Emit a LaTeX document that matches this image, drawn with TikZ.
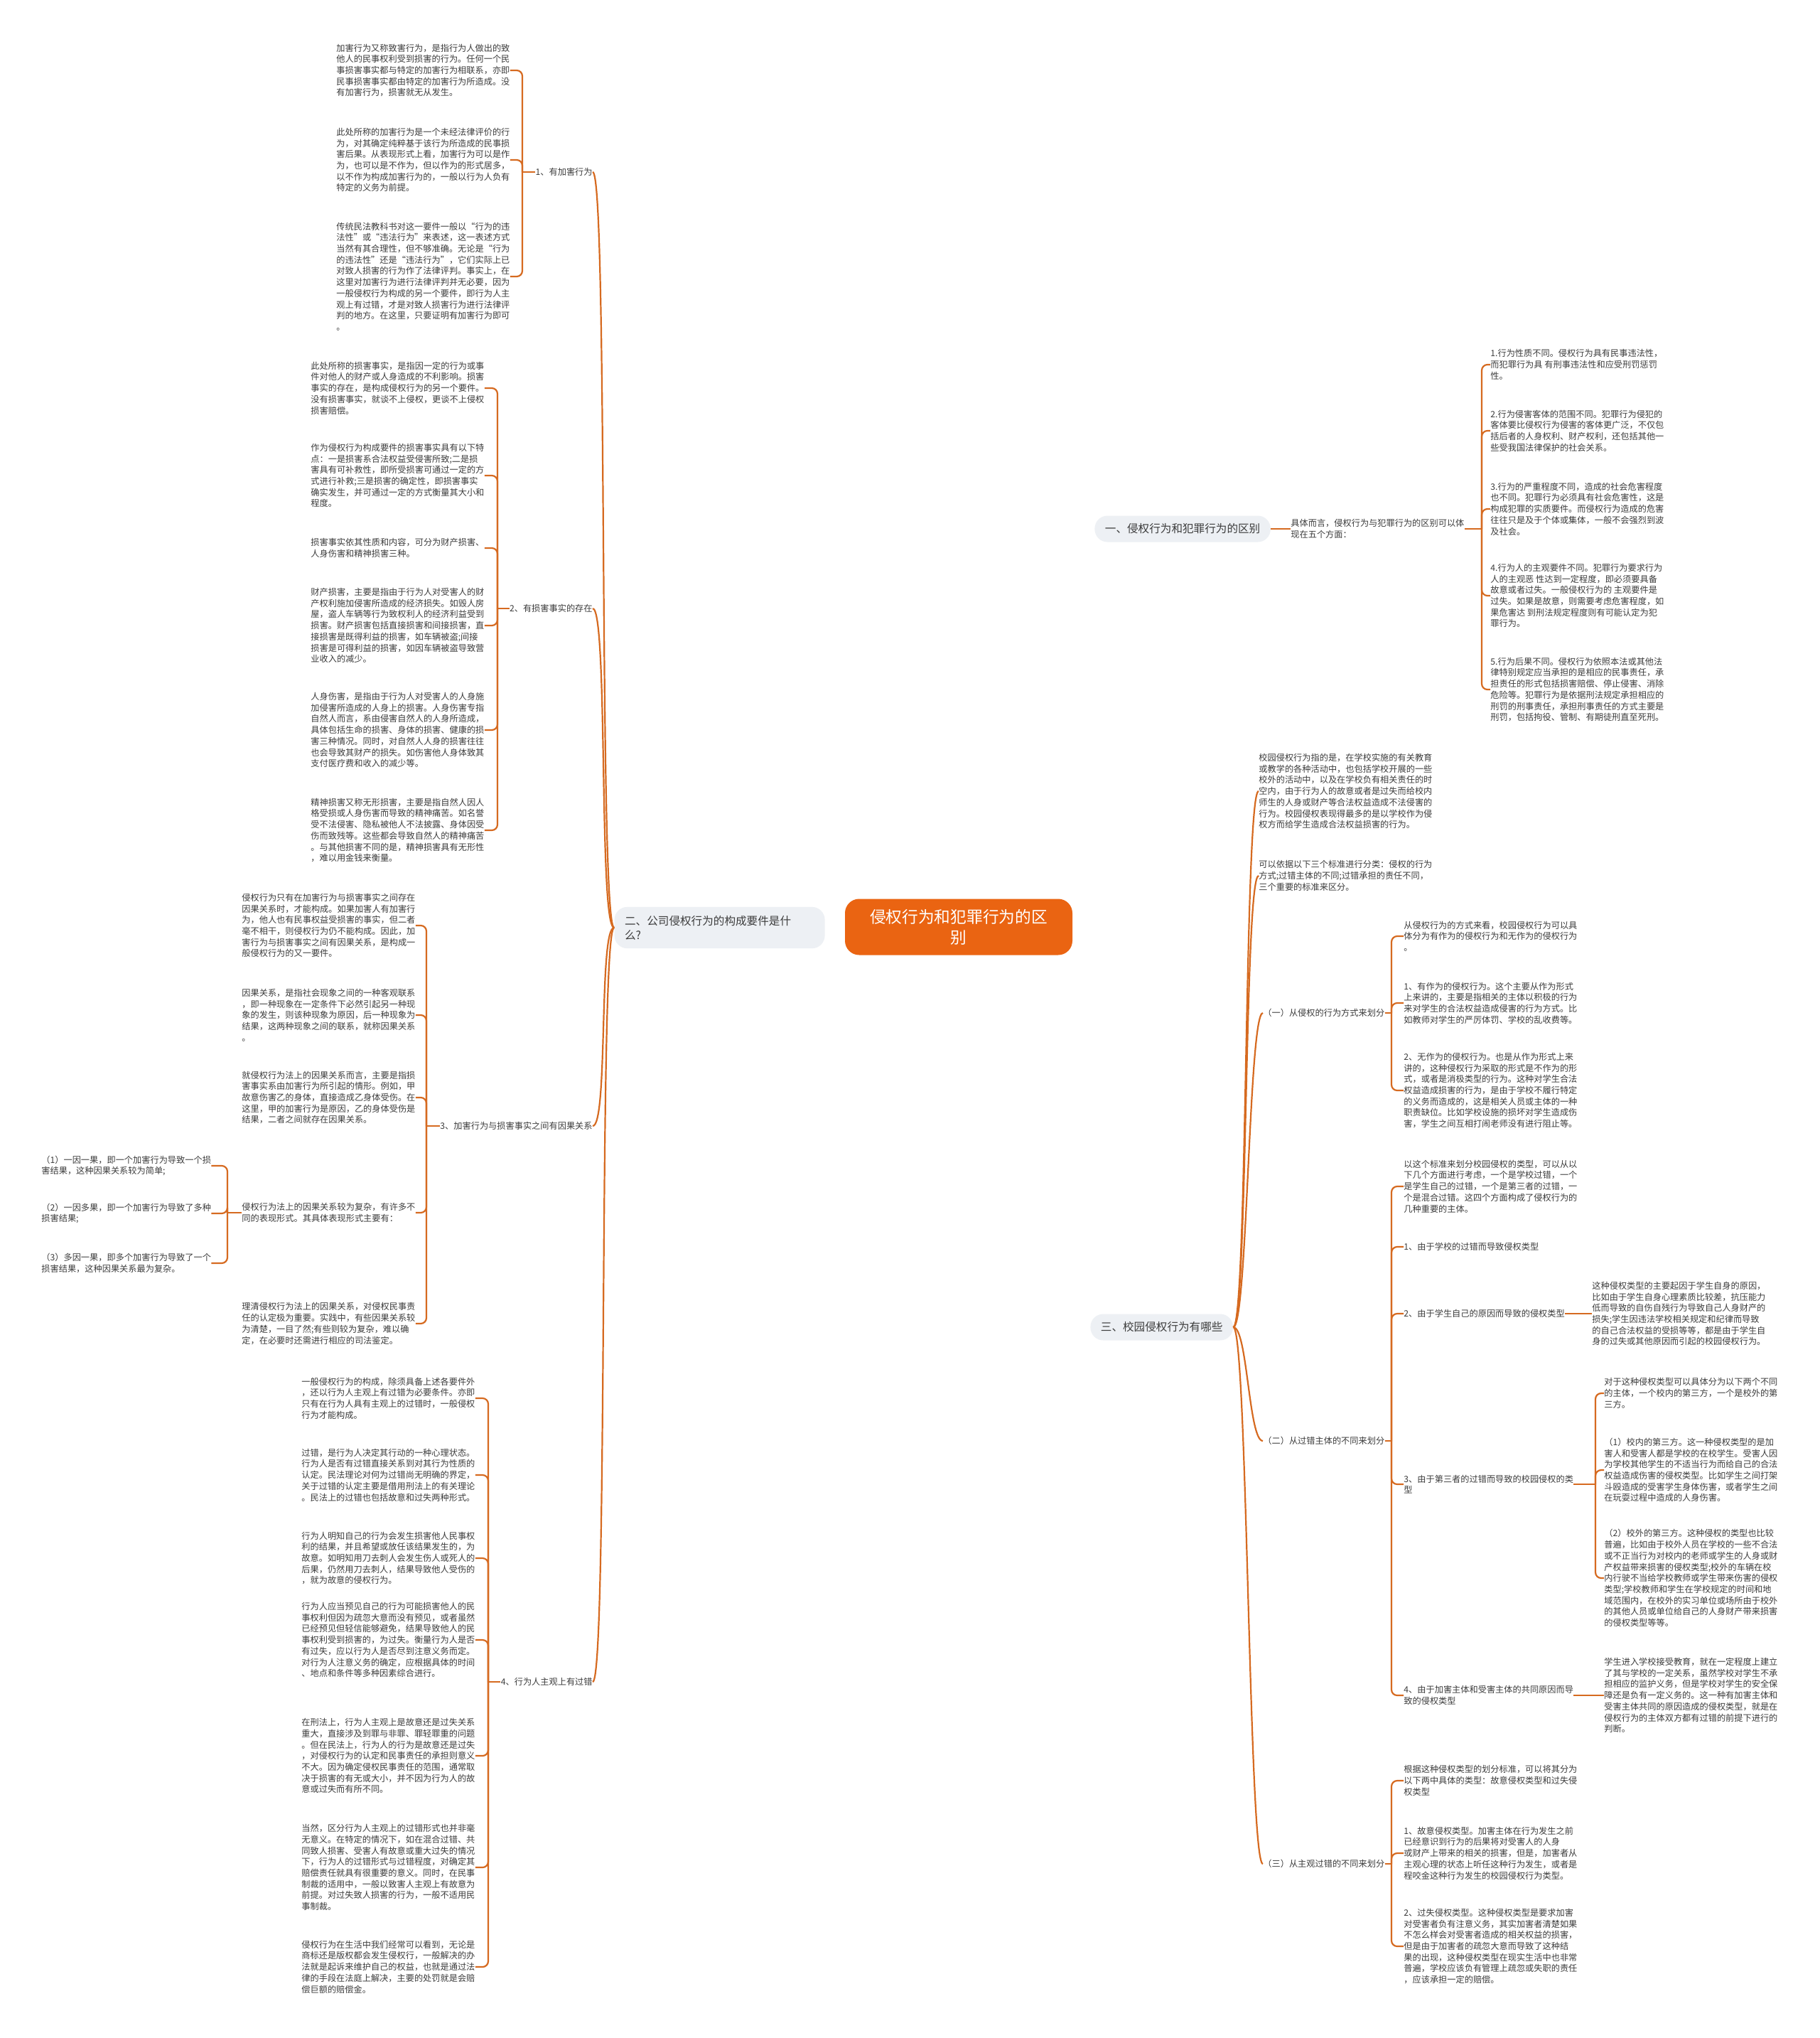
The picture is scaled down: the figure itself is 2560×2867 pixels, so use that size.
\documentclass[tikz,border=0pt]{standalone}
\usepackage{fontspec}
\setmainfont{Noto Sans CJK SC}
\usetikzlibrary{backgrounds}

\definecolor{linkc}{RGB}{214,106,32}
\definecolor{rootc}{RGB}{234,100,18}
\definecolor{topicc}{RGB}{237,240,244}
\definecolor{txtc}{RGB}{60,60,60}
\newcommand{\leaffont}{\fontsize{6.1pt}{7.85pt}\selectfont}

\begin{document}
\begin{tikzpicture}[x=0.5pt,y=-0.5pt,
  link/.style={draw=linkc,line width=1.1pt},
  hook/.style={link,rounded corners=4pt},
  leaf/.style={inner sep=0pt,align=left,text=txtc,font=\leaffont},
  topic/.style={fill=topicc,rounded corners=9pt,inner xsep=7.25pt,inner ysep=0pt,minimum height=18.5pt,text=txtc,font=\fontsize{7.8pt}{10pt}\selectfont},
  root/.style={fill=rootc,text=white,rounded corners=10pt,align=center,minimum width=160pt,minimum height=39.5pt,font=\fontsize{11.35pt}{14.5pt}\selectfont}]

\fill[white] (0,0) rectangle (2560,2867);
\useasboundingbox (0,0) rectangle (2560,2867);

% centre and main topics
\node[root] (root) at (1349,1304) {侵权行为和犯罪行为的区\\别};
\node[topic,anchor=west] (b1) at (1540,744) {一、侵权行为和犯罪行为的区别};
\node[topic,anchor=east,align=left,text width=133.5pt,inner ysep=6pt] (b2) at (1161,1305) {二、公司侵权行为的构成要件是什\\么?};
\node[topic,anchor=west] (b3) at (1534,1867) {三、校园侵权行为有哪些};

% left: labels
\node[leaf,anchor=east] (l1) at (834,242) {1、有加害行为};
\node[leaf,anchor=east] (l2) at (834,856) {2、有损害事实的存在};
\node[leaf,anchor=east] (l3) at (834,1584) {3、加害行为与损害事实之间有因果关系};
\node[leaf,anchor=east] (l4) at (834,2366) {4、行为人主观上有过错};

% 1
\node[leaf,anchor=west] (a1) at (473,99) {加害行为又称致害行为，是指行为人做出的致\\他人的民事权利受到损害的行为。任何一个民\\事损害事实都与特定的加害行为相联系，亦即\\民事损害事实都由特定的加害行为所造成。没\\有加害行为，损害就无从发生。};
\node[leaf,anchor=west] (a2) at (473,225) {此处所称的加害行为是一个未经法律评价的行\\为，对其确定纯粹基于该行为所造成的民事损\\害后果。从表现形式上看，加害行为可以是作\\为，也可以是不作为，但以作为的形式居多，\\以不作为构成加害行为的，一般以行为人负有\\特定的义务为前提。};
\node[leaf,anchor=west] (a3) at (473,389) {传统民法教科书对这一要件一般以“行为的违\\法性”或“违法行为”来表述，这一表述方式\\当然有其合理性，但不够准确。无论是“行为\\的违法性”还是“违法行为”，它们实际上已\\对致人损害的行为作了法律评判。事实上，在\\这里对加害行为进行法律评判并无必要，因为\\一般侵权行为构成的另一个要件，即行为人主\\观上有过错，才是对致人损害行为进行法律评\\判的地方。在这里，只要证明有加害行为即可\\。};

% 2
\node[leaf,anchor=west] (d1) at (437,546) {此处所称的损害事实，是指因一定的行为或事\\件对他人的财产或人身造成的不利影响。损害\\事实的存在，是构成侵权行为的另一个要件。\\没有损害事实，就谈不上侵权，更谈不上侵权\\损害赔偿。};
\node[leaf,anchor=west] (d2) at (437,669) {作为侵权行为构成要件的损害事实具有以下特\\点：一是损害系合法权益受侵害所致;二是损\\害具有可补救性，即所受损害可通过一定的方\\式进行补救;三是损害的确定性，即损害事实\\确实发生，并可通过一定的方式衡量其大小和\\程度。};
\node[leaf,anchor=west] (d3) at (437,771) {损害事实依其性质和内容，可分为财产损害、\\人身伤害和精神损害三种。};
\node[leaf,anchor=west] (d4) at (437,880) {财产损害，主要是指由于行为人对受害人的财\\产权利施加侵害所造成的经济损失。如毁人房\\屋，盗人车辆等行为致权利人的经济利益受到\\损害。财产损害包括直接损害和间接损害，直\\接损害是既得利益的损害，如车辆被盗;间接\\损害是可得利益的损害，如因车辆被盗导致营\\业收入的减少。};
\node[leaf,anchor=west] (d5) at (437,1027) {人身伤害，是指由于行为人对受害人的人身施\\加侵害所造成的人身上的损害。人身伤害专指\\自然人而言，系由侵害自然人的人身所造成，\\具体包括生命的损害、身体的损害、健康的损\\害三种情况。同时，对自然人人身的损害往往\\也会导致其财产的损失。如伤害他人身体致其\\支付医疗费和收入的减少等。};
\node[leaf,anchor=west] (d6) at (437,1168) {精神损害又称无形损害，主要是指自然人因人\\格受损或人身伤害而导致的精神痛苦。如名誉\\受不法侵害、隐私被他人不法披露、身体因受\\伤而致残等。这些都会导致自然人的精神痛苦\\。与其他损害不同的是，精神损害具有无形性\\，难以用金钱来衡量。};

% 3
\node[leaf,anchor=west] (c1) at (340,1302) {侵权行为只有在加害行为与损害事实之间存在\\因果关系时，才能构成。如果加害人有加害行\\为，他人也有民事权益受损害的事实，但二者\\毫不相干，则侵权行为仍不能构成。因此，加\\害行为与损害事实之间有因果关系，是构成一\\般侵权行为的又一要件。};
\node[leaf,anchor=west] (c2) at (340,1428) {因果关系，是指社会现象之间的一种客观联系\\，即一种现象在一定条件下必然引起另一种现\\象的发生，则该种现象为原因，后一种现象为\\结果，这两种现象之间的联系，就称因果关系\\。};
\node[leaf,anchor=west] (c3) at (340,1544) {就侵权行为法上的因果关系而言，主要是指损\\害事实系由加害行为所引起的情形。例如，甲\\故意伤害乙的身体，直接造成乙身体受伤。在\\这里，甲的加害行为是原因，乙的身体受伤是\\结果，二者之间就存在因果关系。};
\node[leaf,anchor=west] (c4) at (340,1706) {侵权行为法上的因果关系较为复杂，有许多不\\同的表现形式。其具体表现形式主要有：};
\node[leaf,anchor=west] (c5) at (340,1862) {理清侵权行为法上的因果关系，对侵权民事责\\任的认定极为重要。实践中，有些因果关系较\\为清楚，一目了然;有些则较为复杂，难以确\\定，在必要时还需进行相应的司法鉴定。};
\node[leaf,anchor=west] (cf1) at (58,1640) {（1）一因一果，即一个加害行为导致一个损\\害结果，这种因果关系较为简单;};
\node[leaf,anchor=west] (cf2) at (58,1707) {（2）一因多果，即一个加害行为导致了多种\\损害结果;};
\node[leaf,anchor=west] (cf3) at (58,1777) {（3）多因一果，即多个加害行为导致了一个\\损害结果，这种因果关系最为复杂。};

% 4
\node[leaf,anchor=west] (f1) at (424,1967) {一般侵权行为的构成，除须具备上述各要件外\\，还以行为人主观上有过错为必要条件。亦即\\只有在行为人具有主观上的过错时，一般侵权\\行为才能构成。};
\node[leaf,anchor=west] (f2) at (424,2075) {过错，是行为人决定其行动的一种心理状态。\\行为人是否有过错直接关系到对其行为性质的\\认定。民法理论对何为过错尚无明确的界定，\\关于过错的认定主要是借用刑法上的有关理论\\。民法上的过错也包括故意和过失两种形式。};
\node[leaf,anchor=west] (f3) at (424,2192) {行为人明知自己的行为会发生损害他人民事权\\利的结果，并且希望或放任该结果发生的，为\\故意。如明知用刀去刺人会发生伤人或死人的\\后果，仍然用刀去刺人，结果导致他人受伤的\\，就为故意的侵权行为。};
\node[leaf,anchor=west] (f4) at (424,2307) {行为人应当预见自己的行为可能损害他人的民\\事权利但因为疏忽大意而没有预见，或者虽然\\已经预见但轻信能够避免，结果导致他人的民\\事权利受到损害的，为过失。衡量行为人是否\\有过失，应以行为人是否尽到注意义务而定。\\对行为人注意义务的确定，应根据具体的时间\\、地点和条件等多种因素综合进行。};
\node[leaf,anchor=west] (f5) at (424,2470) {在刑法上，行为人主观上是故意还是过失关系\\重大，直接涉及到罪与非罪、罪轻罪重的问题\\。但在民法上，行为人的行为是故意还是过失\\，对侵权行为的认定和民事责任的承担则意义\\不大。因为确定侵权民事责任的范围，通常取\\决于损害的有无或大小，并不因为行为人的故\\意或过失而有所不同。};
\node[leaf,anchor=west] (f6) at (424,2627) {当然，区分行为人主观上的过错形式也并非毫\\无意义。在特定的情况下，如在混合过错、共\\同致人损害、受害人有故意或重大过失的情况\\下，行为人的过错形式与过错程度，对确定其\\赔偿责任就具有很重要的意义。同时，在民事\\制裁的适用中，一般以致害人主观上有故意为\\前提。对过失致人损害的行为，一般不适用民\\事制裁。};
\node[leaf,anchor=west] (f7) at (424,2767) {侵权行为在生活中我们经常可以看到，无论是\\商标还是版权都会发生侵权行，一般解决的办\\法就是起诉来维护自己的权益，也就是通过法\\律的手段在法庭上解决，主要的处罚就是会赔\\偿巨额的赔偿金。};

% right: 区别
\node[leaf,anchor=west] (e0) at (1816,744) {具体而言，侵权行为与犯罪行为的区别可以体\\现在五个方面：};
\node[leaf,anchor=west] (e1) at (2097,513) {1.行为性质不同。侵权行为具有民事违法性，\\而犯罪行为具 有刑事违法性和应受刑罚惩罚\\性。};
\node[leaf,anchor=west] (e2) at (2097,606) {2.行为侵害客体的范围不同。犯罪行为侵犯的\\客体要比侵权行为侵害的客体更广泛，不仅包\\括后者的人身权利、财产权利，还包括其他一\\些受我国法律保护的社会关系。};
\node[leaf,anchor=west] (e3) at (2097,716) {3.行为的严重程度不同，造成的社会危害程度\\也不同。犯罪行为必须具有社会危害性，这是\\构成犯罪的实质要件。而侵权行为造成的危害\\往往只是及于个体或集体，一般不会强烈到波\\及社会。};
\node[leaf,anchor=west] (e4) at (2097,838) {4.行为人的主观要件不同。犯罪行为要求行为\\人的主观恶 性达到一定程度，即必须要具备\\故意或者过失。一般侵权行为的 主观要件是\\过失。如果是故意，则需要考虑危害程度，如\\果危害达 到刑法规定程度则有可能认定为犯\\罪行为。};
\node[leaf,anchor=west] (e5) at (2097,970) {5.行为后果不同。侵权行为依照本法或其他法\\律特别规定应当承担的是相应的民事责任，承\\担责任的形式包括损害赔偿、停止侵害、消除\\危险等。犯罪行为是依据刑法规定承担相应的\\刑罚的刑事责任，承担刑事责任的方式主要是\\刑罚，包括拘役、管制、有期徒刑直至死刑。};

% right: 校园
\node[leaf,anchor=west] (s0) at (1771,1113) {校园侵权行为指的是，在学校实施的有关教育\\或教学的各种活动中，也包括学校开展的一些\\校外的活动中，以及在学校负有相关责任的时\\空内，由于行为人的故意或者是过失而给校内\\师生的人身或财产等合法权益造成不法侵害的\\行为。校园侵权表现得最多的是以学校作为侵\\权方而给学生造成合法权益损害的行为。};
\node[leaf,anchor=west] (s1) at (1771,1232) {可以依据以下三个标准进行分类：侵权的行为\\方式;过错主体的不同;过错承担的责任不同，\\三个重要的标准来区分。};
\node[leaf,anchor=west] (k1) at (1777,1425) {（一）从侵权的行为方式来划分};
\node[leaf,anchor=west] (k2) at (1777,2027) {（二）从过错主体的不同来划分};
\node[leaf,anchor=west] (k3) at (1777,2622) {（三）从主观过错的不同来划分};

\node[leaf,anchor=west] (h1) at (1975,1317) {从侵权行为的方式来看，校园侵权行为可以具\\体分为有作为的侵权行为和无作为的侵权行为\\。};
\node[leaf,anchor=west] (h2) at (1975,1411) {1、有作为的侵权行为。这个主要从作为形式\\上来讲的，主要是指相关的主体以积极的行为\\来对学生的合法权益造成侵害的行为方式。比\\如教师对学生的严厉体罚、学校的乱收费等。};
\node[leaf,anchor=west] (h3) at (1975,1534) {2、无作为的侵权行为。也是从作为形式上来\\讲的，这种侵权行为采取的形式是不作为的形\\式，或者是消极类型的行为。这种对学生合法\\权益造成损害的行为，是由于学校不履行特定\\的义务而造成的，这是相关人员或主体的一种\\职责缺位。比如学校设施的损坏对学生造成伤\\害，学生之间互相打闹老师没有进行阻止等。};
\node[leaf,anchor=west] (h4) at (1975,1669) {以这个标准来划分校园侵权的类型，可以从以\\下几个方面进行考虑，一个是学校过错，一个\\是学生自己的过错，一个是第三者的过错，一\\个是混合过错。这四个方面构成了侵权行为的\\几种重要的主体。};
\node[leaf,anchor=west] (h5) at (1975,1754) {1、由于学校的过错而导致侵权类型};
\node[leaf,anchor=west] (h6) at (1975,1848) {2、由于学生自己的原因而导致的侵权类型};
\node[leaf,anchor=west] (h7) at (1975,2088) {3、由于第三者的过错而导致的校园侵权的类\\型};
\node[leaf,anchor=west] (h8) at (1975,2385) {4、由于加害主体和受害主体的共同原因而导\\致的侵权类型};
\node[leaf,anchor=west] (h9) at (1975,2505) {根据这种侵权类型的划分标准，可以将其分为\\以下两中具体的类型：故意侵权类型和过失侵\\权类型};
\node[leaf,anchor=west] (h10) at (1975,2607) {1、故意侵权类型。加害主体在行为发生之前\\已经意识到行为的后果将对受害人的人身\\或财产上带来的相关的损害，但是，加害者从\\主观心理的状态上听任这种行为发生，或者是\\程咬金这种行为发生的校园侵权行为类型。};
\node[leaf,anchor=west] (h11) at (1975,2738) {2、过失侵权类型。这种侵权类型是要求加害\\对受害者负有注意义务，其实加害者清楚如果\\不怎么样会对受害者造成的相关权益的损害，\\但是由于加害者的疏忽大意而导致了这种结\\果的出现，这种侵权类型在现实生活中也非常\\普遍，学校应该负有管理上疏忽或失职的责任\\，应该承担一定的赔偿。};

\node[leaf,anchor=west] (m1) at (2240,1848) {这种侵权类型的主要起因于学生自身的原因，\\比如由于学生自身心理素质比较差，抗压能力\\低而导致的自伤自残行为导致自己人身财产的\\损失;学生因违法学校相关规定和纪律而导致\\的自己合法权益的受损等等，都是由于学生自\\身的过失或其他原因而引起的校园侵权行为。};
\node[leaf,anchor=west] (j1) at (2257,1960) {对于这种侵权类型可以具体分为以下两个不同\\的主体，一个校内的第三方，一个是校外的第\\三方。};
\node[leaf,anchor=west] (j2) at (2257,2068) {（1）校内的第三方。这一种侵权类型的是加\\害人和受害人都是学校的在校学生。受害人因\\为学校其他学生的不适当行为而给自己的合法\\权益造成伤害的侵权类型。比如学生之间打架\\斗殴造成的受害学生身体伤害，或者学生之间\\在玩耍过程中造成的人身伤害。};
\node[leaf,anchor=west] (j3) at (2257,2220) {（2）校外的第三方。这种侵权的类型也比较\\普遍，比如由于校外人员在学校的一些不合法\\或不正当行为对校内的老师或学生的人身或财\\产权益带来损害的侵权类型;校外的车辆在校\\内行驶不当给学校教师或学生带来伤害的侵权\\类型;学校教师和学生在学校规定的时间和地\\域范围内，在校外的实习单位或场所由于校外\\的其他人员或单位给自己的人身财产带来损害\\的侵权类型等等。};
\node[leaf,anchor=west] (j4) at (2257,2385) {学生进入学校接受教育，就在一定程度上建立\\了其与学校的一定关系，虽然学校对学生不承\\担相应的监护义务，但是学校对学生的安全保\\障还是负有一定义务的。这一种有加害主体和\\受害主体共同的原因造成的侵权类型，就是在\\侵权行为的主体双方都有过错的前提下进行的\\判断。};

% trunks of the brackets
\coordinate (ta) at (735,242);
\coordinate (td) at (700,856);
\coordinate (tc) at (600,1584);
\coordinate (tcf) at (320,1706);
\coordinate (tf) at (687,2366);
\coordinate (te) at (2085,744);
\coordinate (tk1) at (1958,1425);
\coordinate (tk2) at (1958,2027);
\coordinate (tk3) at (1958,2622);
\coordinate (tj) at (2245,2088);

\begin{scope}[on background layer]
\draw[link] (root.center) .. controls +(0,-420) and +(-110,0) .. (b1.west);
\draw[link] (root.center) .. controls +(0,420) and +(-110,0) .. (b3.west);
\draw[link] (root.west) -- (b2.east);
\end{scope}

\foreach \n in {l1,l2,l3,l4}
  \draw[link] (b2.west) .. controls +(-22,0) and +(22,0) .. (\n.east);
\foreach \n in {s0,s1,k1,k2,k3}
  \draw[link] (b3.east) .. controls +(20,0) and +(-20,0) .. (\n.west);

% left brackets
\draw[link] (l1.west) -- (ta);
\foreach \n in {a1,a2,a3} \draw[hook] (ta) |- (\n.east);
\draw[link] (l2.west) -- (td);
\foreach \n in {d1,d2,d3,d4,d5,d6} \draw[hook] (td) |- (\n.east);
\draw[link] (l3.west) -- (tc);
\foreach \n in {c1,c2,c3,c4,c5} \draw[hook] (tc) |- (\n.east);
\draw[link] (c4.west) -- (tcf);
\foreach \n in {cf1,cf2,cf3} \draw[hook] (tcf) |- (\n.east);
\draw[link] (l4.west) -- (tf);
\foreach \n in {f1,f2,f3,f4,f5,f6,f7} \draw[hook] (tf) |- (\n.east);

% right brackets
\draw[link] (b1.east) -- (e0.west);
\draw[link] (e0.east) -- (te);
\foreach \n in {e1,e2,e3,e4,e5} \draw[hook] (te) |- (\n.west);
\draw[link] (k1.east) -- (tk1);
\foreach \n in {h1,h2,h3} \draw[hook] (tk1) |- (\n.west);
\draw[link] (k2.east) -- (tk2);
\foreach \n in {h4,h5,h6,h7,h8} \draw[hook] (tk2) |- (\n.west);
\draw[link] (k3.east) -- (tk3);
\foreach \n in {h9,h10,h11} \draw[hook] (tk3) |- (\n.west);
\draw[link] (h6.east) -- (m1.west);
\draw[link] (h7.east) -- (tj);
\foreach \n in {j1,j2,j3} \draw[hook] (tj) |- (\n.west);
\draw[link] (h8.east) -- (j4.west);

\end{tikzpicture}
\end{document}
